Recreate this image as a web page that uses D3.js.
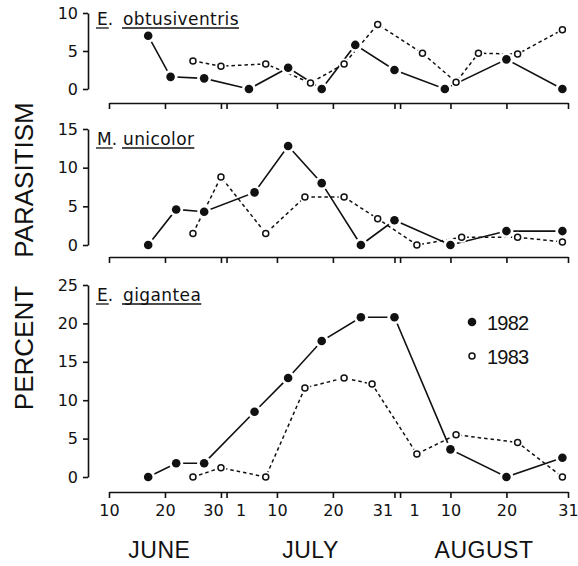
<!DOCTYPE html>
<html lang="en">
<head>
<meta charset="utf-8">
<title>Percent parasitism by date, 1982 and 1983</title>
<script src="https://cdn.jsdelivr.net/npm/d3@7"></script>
<style>
  body { margin: 0; background: #fff; }
  svg { display: block; }
  text { fill: #111; }
</style>
</head>
<body>
<script>
// dates are month-day, same calendar for both years
var tickDates = ["06-10","06-20","06-30","07-01","07-10","07-20","07-31","08-01","08-10","08-20","08-31"];
var tickLabels = ["10","20","30","1","10","20","31","1","10","20","31"];
var months = ["JUNE","JULY","AUGUST"];
var monthMid = ["06-19","07-16","08-16"];

var genus = ["E.","M.","E."];
var epithet = ["obtusiventris","unicolor","gigantea"];
var yMax = [10, 15, 25];
var years = ["1982","1983"];

// E. obtusiventris
var obtDates82 = ["06-17","06-21","06-27","07-05","07-12","07-18","07-24","07-31","08-09","08-20","08-30"];
var obtPct82   = [7.0, 1.6, 1.4, 0, 2.8, 0, 5.8, 2.5, 0, 3.9, 0];
var obtDates83 = ["06-25","06-30","07-08","07-16","07-22","07-28","08-05","08-11","08-15","08-22","08-30"];
var obtPct83   = [3.7, 3.0, 3.3, 0.8, 3.3, 8.5, 4.7, 0.9, 4.7, 4.6, 7.8];

// M. unicolor
var uniDates82 = ["06-17","06-22","06-27","07-06","07-12","07-18","07-25","07-31","08-10","08-20","08-30"];
var uniPct82   = [0, 4.6, 4.3, 6.8, 12.8, 8.0, 0, 3.2, 0, 1.8, 1.8];
var uniDates83 = ["06-25","06-30","07-08","07-15","07-22","07-28","08-04","08-12","08-22","08-30"];
var uniPct83   = [1.5, 8.8, 1.5, 6.2, 6.2, 3.4, 0, 1.0, 1.0, 0.4];

// E. gigantea
var gigDates82 = ["06-17","06-22","06-27","07-06","07-12","07-18","07-25","07-31","08-10","08-20","08-30"];
var gigPct82   = [0, 1.8, 1.8, 8.5, 12.9, 17.7, 20.8, 20.8, 3.6, 0, 2.5];
var gigDates83 = ["06-25","06-30","07-08","07-15","07-22","07-27","08-04","08-11","08-22","08-30"];
var gigPct83   = [0, 1.2, 0, 11.6, 12.9, 12.1, 3.0, 5.5, 4.5, 0];

var parse = d3.timeParse("%m-%d");

function pairs(dates, vals) {
  return dates.map(function(d, i) { return { date: parse(d), v: vals[i] }; });
}

var series = [
  [pairs(obtDates82, obtPct82), pairs(obtDates83, obtPct83)],
  [pairs(uniDates82, uniPct82), pairs(uniDates83, uniPct83)],
  [pairs(gigDates82, gigPct82), pairs(gigDates83, gigPct83)]
];

var w = 578, h = 566;
var axisX = 88;

// vertical layout of the three panels
var layout = [
  { top: 13,  bottom: 89,  axisY: 103, labelY: 25 },
  { top: 129, bottom: 245, axisY: 257, labelY: 145 },
  { top: 285, bottom: 477, axisY: 492, labelY: 301 }
];

var svg = d3.select("body").append("svg")
  .attr("width", w)
  .attr("height", h);

var x = d3.scaleTime()
  .domain([parse("06-10"), parse("08-31")])
  .range([109, 568]);

var nudge = { 2: -8, 3: 14, 6: -12, 7: 14 };

layout.forEach(function(L, i) {
  var y = d3.scaleLinear().domain([0, yMax[i]]).range([L.bottom, L.top]);
  var g = svg.append("g");

  // y axis
  var ya = g.append("g")
    .attr("transform", "translate(" + axisX + ",0)")
    .call(d3.axisLeft(y)
      .tickValues(d3.range(0, yMax[i] + 1, 5))
      .tickSize(5).tickSizeOuter(0).tickPadding(5));
  ya.selectAll("path, line").attr("stroke", "#111").attr("stroke-width", 1.6);
  ya.selectAll("text")
    .attr("font-family", "DejaVu Sans").attr("font-size", 16).style("fill", "#111");

  // x axis under each panel, labels only on the last
  var xa = g.append("g")
    .attr("transform", "translate(0," + L.axisY + ")")
    .call(d3.axisBottom(x)
      .tickValues(tickDates.map(parse))
      .tickSize(6).tickSizeOuter(0).tickPadding(7)
      .tickFormat(function(d, j) { return i === 2 ? tickLabels[j] : ""; }));
  xa.selectAll("path, line").attr("stroke", "#111").attr("stroke-width", 1.6);
  xa.selectAll("text")
    .attr("font-family", "DejaVu Sans").attr("font-size", 16).style("fill", "#111")
    .attr("dx", function(d, j) { return nudge[j] || 0; });

  // species label, underlined
  var gt = g.append("text")
    .attr("x", 97).attr("y", L.labelY)
    .attr("font-family", "DejaVu Sans").attr("font-size", 17)
    .text(genus[i]);
  var gw = gt.node().getSubStringLength(0, 1);
  var et = g.append("text")
    .attr("x", 123).attr("y", L.labelY)
    .attr("font-family", "DejaVu Sans").attr("font-size", 17)
    .attr("letter-spacing", 0.4)
    .text(epithet[i]);
  var ew = et.node().getComputedTextLength();
  g.append("line")
    .attr("x1", 96).attr("x2", 97 + gw + 1)
    .attr("y1", L.labelY + 3).attr("y2", L.labelY + 3)
    .attr("stroke", "#111").attr("stroke-width", 1.3);
  g.append("line")
    .attr("x1", 122).attr("x2", 123 + ew)
    .attr("y1", L.labelY + 3).attr("y2", L.labelY + 3)
    .attr("stroke", "#111").attr("stroke-width", 1.3);

  var line = d3.line()
    .x(function(d) { return x(d.date); })
    .y(function(d) { return y(d.v); });

  // lines
  g.append("path").datum(series[i][0])
    .attr("d", line).attr("fill", "none")
    .attr("stroke", "#111").attr("stroke-width", 1.6);
  g.append("path").datum(series[i][1])
    .attr("d", line).attr("fill", "none")
    .attr("stroke", "#111").attr("stroke-width", 1.5)
    .attr("stroke-dasharray", "3.5,3");

  // white knockouts so lines stop short of the markers
  g.selectAll(".ko82").data(series[i][0]).enter().append("circle")
    .attr("cx", function(d) { return x(d.date); })
    .attr("cy", function(d) { return y(d.v); })
    .attr("r", 7).attr("fill", "#fff");
  g.selectAll(".ko83").data(series[i][1]).enter().append("circle")
    .attr("cx", function(d) { return x(d.date); })
    .attr("cy", function(d) { return y(d.v); })
    .attr("r", 5.5).attr("fill", "#fff");

  // markers
  g.selectAll(".m82").data(series[i][0]).enter().append("circle")
    .attr("cx", function(d) { return x(d.date); })
    .attr("cy", function(d) { return y(d.v); })
    .attr("r", 4.3).attr("fill", "#111");
  g.selectAll(".m83").data(series[i][1]).enter().append("circle")
    .attr("cx", function(d) { return x(d.date); })
    .attr("cy", function(d) { return y(d.v); })
    .attr("r", 3).attr("fill", "#fff")
    .attr("stroke", "#111").attr("stroke-width", 1.5);
});

// month names
svg.selectAll(".month").data(months).enter().append("text")
  .attr("x", function(d, i) { return x(parse(monthMid[i])); })
  .attr("y", 558)
  .attr("text-anchor", "middle")
  .attr("font-family", "Liberation Sans").attr("font-size", 23)
  .attr("letter-spacing", 0.5)
  .text(function(d) { return d; });

// y title
svg.append("text")
  .attr("transform", "translate(33,348) rotate(-90)")
  .attr("text-anchor", "middle")
  .attr("font-family", "Liberation Sans").attr("font-size", 26)
  .text("PERCENT");
svg.append("text")
  .attr("transform", "translate(33,180) rotate(-90)")
  .attr("text-anchor", "middle")
  .attr("font-family", "Liberation Sans").attr("font-size", 26)
  .text("PARASITISM");

// legend
var leg = svg.selectAll(".leg").data(years).enter().append("g")
  .attr("transform", function(d, i) { return "translate(472," + (322 + i * 34) + ")"; });
leg.append("circle")
  .attr("r", function(d, i) { return i === 0 ? 4.3 : 3; })
  .attr("fill", function(d, i) { return i === 0 ? "#111" : "#fff"; })
  .attr("stroke", "#111").attr("stroke-width", function(d, i) { return i === 0 ? 0 : 1.5; });
leg.append("text")
  .attr("x", 15).attr("y", 7.5)
  .attr("font-family", "Liberation Sans").attr("font-size", 20)
  .attr("letter-spacing", -0.8)
  .text(function(d) { return d; });
</script>
</body>
</html>
